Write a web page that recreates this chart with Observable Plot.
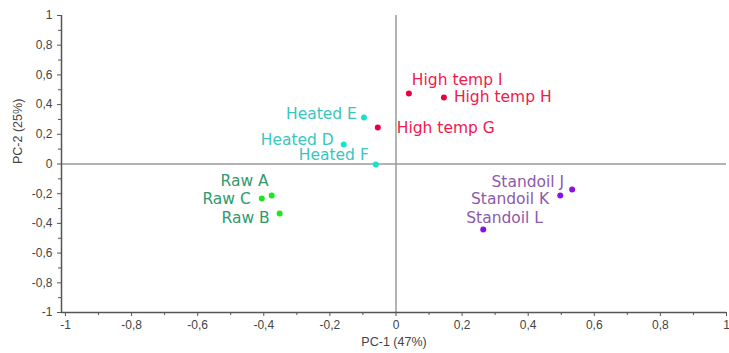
<!DOCTYPE html>
<html>
<head>
<meta charset="utf-8">
<script src="https://cdn.jsdelivr.net/npm/d3@7"></script>
<script src="https://cdn.jsdelivr.net/npm/@observablehq/plot@0.6"></script>
<style>
  html, body { margin: 0; padding: 0; background: #fff; }
  #chart { width: 729px; height: 353px; }
</style>
</head>
<body>
<div id="chart"></div>
<script>
// ---- data ----
const samples = ["Raw A", "Raw B", "Raw C", "Heated D", "Heated E", "Heated F",
                 "High temp G", "High temp H", "High temp I", "Standoil J", "Standoil K", "Standoil L"];
const groups  = ["Raw", "Raw", "Raw", "Heated", "Heated", "Heated",
                 "High temp", "High temp", "High temp", "Standoil", "Standoil", "Standoil"];
const pc1 = [-0.376, -0.352, -0.406, -0.158, -0.097, -0.061, -0.055, 0.145, 0.039, 0.533, 0.497, 0.264];
const pc2 = [-0.212, -0.333, -0.232, 0.131, 0.313, -0.003, 0.246, 0.448, 0.475, -0.172, -0.212, -0.441];
const majorTicks = [-1, -0.8, -0.6, -0.4, -0.2, 0, 0.2, 0.4, 0.6, 0.8, 1];
const minorTicks = [-0.9, -0.7, -0.5, -0.3, -0.1, 0.1, 0.3, 0.5, 0.7, 0.9];
const xTitle = "PC-1 (47%)";
const yTitle = "PC-2 (25%)";

// ---- styles ----
const groupNames = ["Raw", "Heated", "High temp", "Standoil"];
const dotColors  = ["#1ee61e", "#16e4c8", "#ea0040", "#8a10e8"];
const textColors = ["#2f9a6c", "#3ac6be", "#f01a4c", "#8c5aac"];
// label placement relative to each point: [anchor, dx, dy]
const labelPlacement = {
  "Raw A": ["end", -3, -14], "Raw B": ["end", -10, 5], "Raw C": ["end", -11, 1],
  "Heated D": ["end", -10, -5], "Heated E": ["end", -7, -3], "Heated F": ["end", -7, -9],
  "High temp G": ["start", 19, 1], "High temp H": ["start", 10, 0], "High temp I": ["start", 3, -13],
  "Standoil J": ["end", -8, -8], "Standoil K": ["end", -11, 4], "Standoil L": ["start", -17, -11]
};

const data = samples.map((s, i) => ({sample: s, group: groups[i], x: pc1[i], y: pc2[i]}));
const fmt = d => String(d).replace(".", ",");
const labelFont = "'DejaVu Sans', sans-serif";
const axisFont = "'Liberation Sans Narrow', 'Liberation Sans', Arial, sans-serif";

const labelMarks = data.map(d => {
  const [anchor, dx, dy] = labelPlacement[d.sample];
  return Plot.text([d], {
    x: "x", y: "y", text: "sample", fill: d => textColors[groupNames.indexOf(d.group)],
    textAnchor: anchor, dx, dy, fontSize: 15.5, fontFamily: labelFont, letterSpacing: 0.9
  });
});

const xMin = -1.012;
const chart = Plot.plot({
  width: 729, height: 353,
  marginLeft: 61, marginRight: 3, marginTop: 15, marginBottom: 41,
  x: {domain: [xMin, 1]},
  y: {domain: [-1, 1]},
  style: {fontFamily: axisFont, fontSize: "12px", color: "#444", background: "#fff"},
  marks: [
    Plot.ruleX([0], {stroke: "#9a9a9a", strokeWidth: 1.5}),
    Plot.ruleY([0], {x1: xMin, x2: 1, stroke: "#9a9a9a", strokeWidth: 1.5}),
    Plot.axisX(majorTicks, {tickFormat: fmt, tickSize: 4, tickPadding: 4, stroke: "#555", fill: "#444", fontSize: 12, label: null}),
    Plot.axisX(minorTicks, {tickSize: 3, text: null, stroke: "#555", label: null}),
    Plot.axisY(majorTicks, {tickFormat: fmt, tickSize: 4, tickPadding: 5, stroke: "#555", fill: "#444", fontSize: 12, label: null}),
    Plot.axisY(minorTicks, {tickSize: 3, text: null, stroke: "#555", label: null}),
    Plot.ruleX([xMin], {y1: -1, y2: 1, stroke: "#555", strokeWidth: 1.5}),
    Plot.ruleY([-1], {x1: xMin, x2: 1, stroke: "#555", strokeWidth: 1.5}),
    Plot.text([xTitle], {frameAnchor: "bottom", dy: 33, fontSize: 12.5, fill: "#444"}),
    Plot.text([yTitle], {frameAnchor: "left", dx: -44, rotate: -90, fontSize: 12.5, fill: "#444"}),
    Plot.dot(data, {x: "x", y: "y", r: 3, fill: d => dotColors[groupNames.indexOf(d.group)], stroke: "none"}),
    ...labelMarks
  ]
});
document.getElementById("chart").appendChild(chart);
</script>
</body>
</html>
